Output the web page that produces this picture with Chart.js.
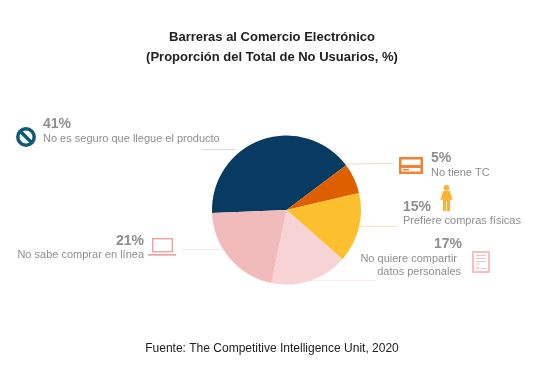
<!DOCTYPE html>
<html>
<head>
<meta charset="utf-8">
<style>
  html, body { margin: 0; padding: 0; background: #fff; }
  #wrap { width: 552px; height: 366px; }
</style>
<script src="https://cdn.jsdelivr.net/npm/chart.js@4"></script>
</head>
<body>
<div id="wrap"><canvas id="chart" width="552" height="366"></canvas></div>
<script>
// categories in drawing order, clockwise from the left edge of the pie
const categories = [
    'No es seguro que llegue el producto',
    'No tiene TC',
    'Prefiere compras físicas',
    'No quiere compartir datos personales',
    'No sabe comprar en línea'
];
// slice sizes as measured on the picture
const sliceValues = [40.4, 6.6, 15.1, 16.8, 21.1];
// printed percentages
const printedLabels = ['41%', '5%', '15%', '17%', '21%'];
const sliceColors = ['#073b62', '#de5f00', '#fcc02e', '#f8d3d5', '#f1bbbb'];

const titleLines = ['Barreras al Comercio Electrónico', '(Proporción del Total de No Usuarios, %)'];
const sourceText = 'Fuente: The Competitive Intelligence Unit, 2020';

const FONT = '"Liberation Sans", Arial, sans-serif';
const GREY = '#8e8e8e';

const put = (ctx, text, x, y, font, color, align) => {
    ctx.font = font;
    ctx.fillStyle = color;
    ctx.textAlign = align || 'left';
    ctx.textBaseline = 'alphabetic';
    ctx.fillText(text, x, y);
};

const caption = (ctx, text, x, y, align) => {
    put(ctx, text, x, y, '11px ' + FONT, GREY, align);
};

const leader = (ctx, x1, y1, x2, y2, color) => {
    ctx.strokeStyle = color;
    ctx.lineWidth = 1;
    ctx.beginPath();
    ctx.moveTo(x1, y1);
    ctx.lineTo(x2, y2);
    ctx.stroke();
};

// --- Icons ---
const drawBan = (ctx) => {
    ctx.strokeStyle = '#0f5a73';
    ctx.lineWidth = 3.5;
    ctx.beginPath();
    ctx.arc(26, 137, 8.2, 0, Math.PI * 2);
    ctx.stroke();
    ctx.beginPath();
    ctx.moveTo(20.5, 131.5);
    ctx.lineTo(31.5, 142.5);
    ctx.stroke();
};

const drawCard = (ctx) => {
    ctx.fillStyle = '#f58232';
    ctx.fillRect(399, 157, 24, 17);
    ctx.fillStyle = '#fff';
    ctx.fillRect(401.5, 159.5, 19, 5.5);
    ctx.fillRect(401.5, 168, 19, 3.5);
    ctx.fillStyle = '#f58232';
    ctx.fillRect(403, 169, 6, 1.5);
};

const drawPerson = (ctx) => {
    ctx.fillStyle = '#f9b233';
    ctx.beginPath();
    ctx.arc(446.5, 187.8, 2.9, 0, Math.PI * 2);
    ctx.fill();
    ctx.fillRect(443, 191, 7, 10);
    ctx.fillRect(443, 200, 3.1, 11);
    ctx.fillRect(446.9, 200, 3.1, 11);
    ctx.strokeStyle = '#f9b233';
    ctx.lineWidth = 2.2;
    ctx.beginPath();
    ctx.moveTo(444, 192);
    ctx.lineTo(441.3, 200);
    ctx.moveTo(449, 192);
    ctx.lineTo(451.7, 200);
    ctx.stroke();
};

const drawDoc = (ctx) => {
    const c = '#f6c0c0';
    ctx.strokeStyle = c;
    ctx.lineWidth = 2;
    ctx.strokeRect(473, 252, 16, 20);
    leader(ctx, 476, 255.5, 486, 255.5, c);
    leader(ctx, 476, 258.5, 486, 258.5, c);
    leader(ctx, 476, 261.5, 486, 261.5, c);
    leader(ctx, 476, 264, 480, 264, c);
    leader(ctx, 476, 269.5, 479, 267, c);
    leader(ctx, 476, 267, 479, 269.5, c);
    leader(ctx, 481, 268.5, 486, 268.5, c);
};

const drawLaptop = (ctx) => {
    ctx.strokeStyle = '#f2a0a0';
    ctx.lineWidth = 1.4;
    ctx.strokeRect(152.7, 238.7, 19.6, 13);
    leader(ctx, 148, 254.5, 176, 254.5, '#f2a0a0');
    leader(ctx, 148, 255.2, 176, 255.2, '#f2a0a0');
};

const annotations = {
    id: 'annotations',
    beforeDatasetsDraw(chart) {
        const ctx = chart.ctx;
        ctx.save();
        leader(ctx, 202, 149.5, 236, 149.5, '#d9dcdf');
        leader(ctx, 347, 164, 394, 163.5, '#fbd9bd');
        leader(ctx, 359, 226.5, 397, 226.5, '#fde6b5');
        leader(ctx, 310, 280.5, 376, 280.5, '#fbeaea');
        leader(ctx, 181, 249.5, 223, 249.5, '#fbe7e7');
        ctx.restore();
    },
    afterDraw(chart) {
        const ctx = chart.ctx;
        const bold = 'bold 14px ' + FONT;
        ctx.save();

        put(ctx, titleLines[0], 272, 41, 'bold 13px ' + FONT, '#222', 'center');
        put(ctx, titleLines[1], 272, 61, 'bold 13px ' + FONT, '#222', 'center');
        put(ctx, sourceText, 272, 352, '12px ' + FONT, '#222', 'center');

        put(ctx, printedLabels[0], 43, 128, bold, GREY);
        caption(ctx, categories[0], 43, 142);

        put(ctx, printedLabels[1], 431, 162, bold, GREY);
        caption(ctx, categories[1], 431, 176);

        put(ctx, printedLabels[2], 403, 211, bold, GREY);
        caption(ctx, categories[2], 403, 224);

        put(ctx, printedLabels[3], 462, 248, bold, GREY, 'right');
        caption(ctx, 'No quiere compartir', 457, 262, 'right');
        caption(ctx, 'datos personales', 461, 275, 'right');

        put(ctx, printedLabels[4], 144, 245, bold, GREY, 'right');
        caption(ctx, categories[4], 144, 258, 'right');

        drawBan(ctx);
        drawCard(ctx);
        drawPerson(ctx);
        drawDoc(ctx);
        drawLaptop(ctx);
        ctx.restore();
    }
};

document.addEventListener('DOMContentLoaded', () => {
    const ctx = document.getElementById('chart').getContext('2d');
    new Chart(ctx, {
        type: 'pie',
        data: {
            labels: categories,
            datasets: [{
                data: sliceValues,
                backgroundColor: sliceColors,
                borderWidth: 0
            }]
        },
        options: {
            responsive: false,
            animation: false,
            rotation: 267.7,
            layout: { padding: { left: 212, right: 191, top: 135, bottom: 81 } },
            plugins: {
                legend: { display: false },
                tooltip: { enabled: false }
            }
        },
        plugins: [annotations]
    });
});
</script>
</body>
</html>
